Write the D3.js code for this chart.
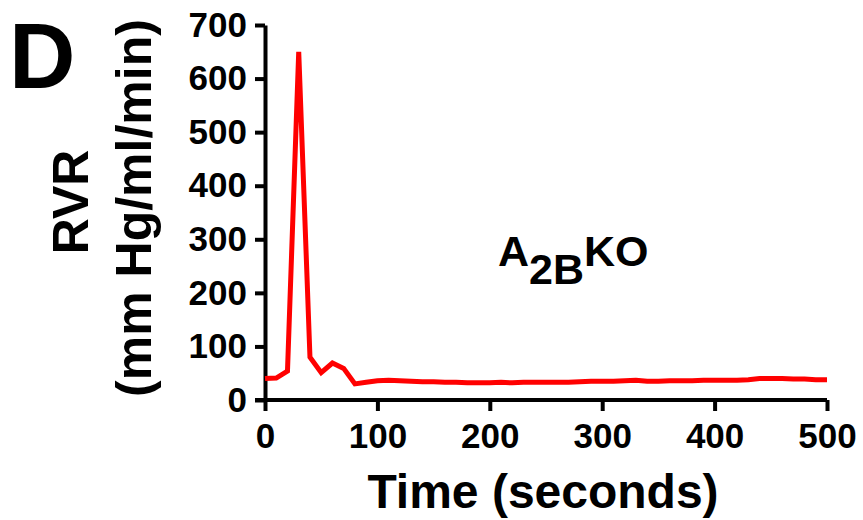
<!DOCTYPE html>
<html>
<head>
<meta charset="utf-8">
<script src="https://cdn.jsdelivr.net/npm/d3@7"></script>
<style>
  body { margin: 0; background: #fff; }
  svg text { font-family: "Liberation Sans", Arial, sans-serif; font-weight: bold; fill: #000; }
</style>
</head>
<body>
<div class="canvas"></div>
<script>
// data (seconds, RVR)
const times = [0, 10, 20, 30, 40, 50, 60, 70, 80, 90, 100, 110, 120, 130, 140, 150, 160, 170, 180, 190,
  200, 210, 220, 230, 240, 250, 260, 270, 280, 290, 300, 310, 320, 330, 340, 350, 360, 370, 380, 390,
  400, 410, 420, 430, 440, 450, 460, 470, 480, 490, 500];
const rvr = [40, 41, 54, 650, 80, 51, 69, 59, 30, 33, 36, 37, 36, 35, 34, 34, 33, 33, 32, 32,
  32, 33, 32, 33, 33, 33, 33, 33, 34, 35, 35, 35, 36, 37, 35, 35, 36, 36, 36, 37,
  37, 37, 37, 38, 40, 40, 40, 39, 39, 38, 38];
const xTicks = [0, 100, 200, 300, 400, 500];
const yTicks = [0, 100, 200, 300, 400, 500, 600, 700];

const width = 863;
const height = 520;
const margin = { top: 25, right: 36, bottom: 120, left: 265 };
const graphWidth = width - margin.left - margin.right;
const graphHeight = height - margin.top - margin.bottom;

const svg = d3
  .select(".canvas")
  .append("svg")
  .attr("width", width)
  .attr("height", height);

const graph = svg
  .append("g")
  .attr("transform", `translate(${margin.left}, ${margin.top})`);

// scales
const x = d3.scaleLinear().domain([0, 500]).range([0, graphWidth]);
const y = d3.scaleLinear().domain([0, 700]).range([graphHeight, 0]);

// axes
const xAxis = d3.axisBottom(x).tickValues(xTicks).tickSize(11).tickPadding(12).tickSizeOuter(0);
const yAxis = d3.axisLeft(y).tickValues(yTicks).tickSize(10).tickPadding(8).tickSizeOuter(0);

const xAxisGroup = graph
  .append("g")
  .attr("transform", `translate(0, ${graphHeight})`)
  .call(xAxis);

const yAxisGroup = graph.append("g").call(yAxis);

[xAxisGroup, yAxisGroup].forEach((g) => {
  g.select(".domain").attr("stroke", "#000").attr("stroke-width", 4);
  g.selectAll(".tick line").attr("stroke", "#000").attr("stroke-width", 4);
  g.selectAll(".tick text").style("font-size", "35px").attr("fill", "#000");
});
xAxisGroup.select(".domain").attr("d", `M-10,0H${graphWidth}`);

// line
const line = d3
  .line()
  .x((d, i) => x(times[i]))
  .y((d) => y(d));

graph
  .append("path")
  .datum(rvr)
  .attr("fill", "none")
  .attr("stroke", "#ff0000")
  .attr("stroke-width", 5)
  .attr("stroke-linejoin", "miter")
  .attr("stroke-miterlimit", 2)
  .attr("d", line);

// panel letter
svg.append("text")
  .attr("x", 9)
  .attr("y", 88)
  .style("font-size", "92px")
  .text("D");

// y-axis titles
svg.append("text")
  .attr("transform", "translate(88, 202) rotate(-90)")
  .attr("text-anchor", "middle")
  .style("font-size", "50px")
  .text("RVR");

svg.append("text")
  .attr("transform", "translate(151, 208) rotate(-90)")
  .attr("text-anchor", "middle")
  .style("font-size", "50px")
  .text("(mm Hg/ml/min)");

// x-axis title
svg.append("text")
  .attr("x", 543)
  .attr("y", 508)
  .attr("text-anchor", "middle")
  .style("font-size", "48px")
  .text("Time (seconds)");

// annotation A2BKO, pieces placed side by side
const noteParts = [
  { t: "A", dy: 0 },
  { t: "2B", dy: 18 },
  { t: "KO", dy: 0 }
];
let noteX = 498;
noteParts.forEach((p) => {
  const el = svg.append("text")
    .attr("x", noteX)
    .attr("y", 266 + p.dy)
    .style("font-size", "43px")
    .text(p.t);
  noteX += el.node().getComputedTextLength();
});
</script>
</body>
</html>
